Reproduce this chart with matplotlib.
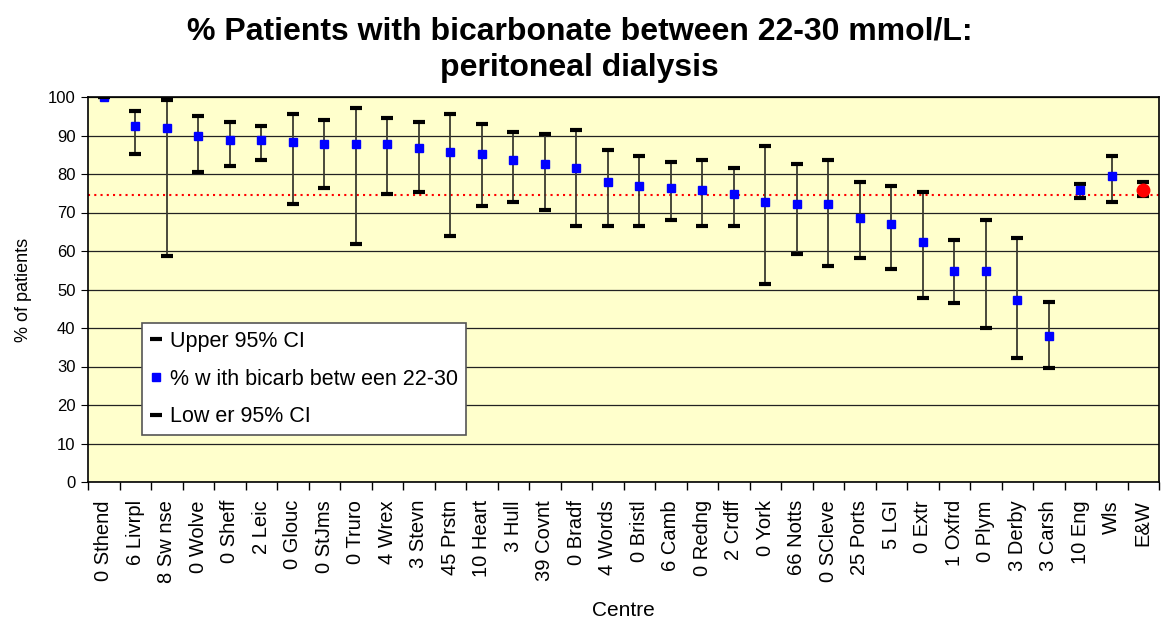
import matplotlib
matplotlib.use("Agg")
import matplotlib.pyplot as plt
import numpy as np

plt.rcParams['font.family'] = ['Liberation Sans', 'DejaVu Sans']

centres = ["0 Sthend", "6 Livrpl", "8 Sw nse", "0 Wolve", "0 Sheff", "2 Leic", "0 Glouc",
           "0 StJms", "0 Truro", "4 Wrex", "3 Stevn", "45 Prstn", "10 Heart", "3 Hull",
           "39 Covnt", "0 Bradf", "4 Words", "0 Bristl", "6 Camb", "0 Redng", "2 Crdff",
           "0 York", "66 Notts", "0 SCleve", "25 Ports", "5 LGI", "0 Extr", "1 Oxfrd",
           "0 Plym", "3 Derby", "3 Carsh", "10 Eng", "Wls", "E&W"]
pct = [100, 92.5, 91.9, 89.9, 88.8, 88.8, 88.3, 87.8, 87.8, 87.8, 86.8, 85.7, 85.2, 83.6,
       82.6, 81.6, 78.0, 77.0, 76.4, 75.9, 74.9, 72.8, 72.3, 72.3, 68.6, 67.1, 62.4, 54.7,
       54.7, 47.4, 38.0, 75.9, 79.6, 75.9]
upper = [100, 96.3, 99.3, 95.1, 93.6, 92.5, 95.7, 94.1, 97.2, 94.6, 93.6, 95.7, 93.1, 91.0,
         90.5, 91.5, 86.3, 84.8, 83.2, 83.7, 81.6, 87.4, 82.7, 83.7, 78.0, 77.0, 75.4, 62.9,
         68.1, 63.5, 46.8, 77.5, 84.8, 78.0]
lower = [100, 85.2, 58.8, 80.5, 82.2, 83.6, 72.3, 76.4, 61.9, 74.9, 75.4, 64.0, 71.8, 72.8,
         70.7, 66.6, 66.6, 66.6, 68.1, 66.6, 66.6, 51.5, 59.3, 56.2, 58.3, 55.2, 47.9, 46.4,
         40.1, 32.3, 29.7, 73.8, 72.8, 74.4]
national_avg = 74.6

W, H = 1162, 619
fig = plt.figure(figsize=(W / 100, H / 100), dpi=100)
ax = fig.add_axes([88 / W, 1 - 482 / H, (1159 - 88) / W, (482 - 97) / H])
ax.set_facecolor('#FFFFCC')

x = np.arange(len(centres))
ax.vlines(x, lower, upper, color='#3a3a30', linewidth=1.3, zorder=3)
ax.plot(x, upper, linestyle='none', marker='_', markersize=8, mew=3, color='black',
        zorder=4, label='Upper 95% CI')
ax.plot(x[:-1], pct[:-1], linestyle='none', marker='s', markersize=6.2, color='#0000FF',
        zorder=5, label='% w ith bicarb betw een 22-30')
ax.plot(x, lower, linestyle='none', marker='_', markersize=8, mew=3, color='black',
        zorder=6, label='Low er 95% CI')
ax.plot(x[-1:], pct[-1:], linestyle='none', marker='o', markersize=9, color='#FF0000',
        zorder=7)
ax.axhline(national_avg, color='#FF0000', linestyle=(0, (1, 2)), linewidth=1.5, zorder=2)

ax.set_xlim(-0.5, len(centres) - 0.5)
ax.set_ylim(0, 100)
ax.set_yticks(np.arange(0, 101, 10))
ax.yaxis.grid(True, color='#222222', linewidth=0.9)
ax.set_axisbelow(True)
ax.set_xticks(x)
ax.set_xticklabels(centres, rotation=90, fontsize=14.5)
ax.set_xticks(np.arange(-0.5, len(centres), 1), minor=True)
ax.tick_params(axis='x', which='major', length=0, pad=13)
ax.tick_params(axis='x', which='minor', length=6, width=1, direction='out')
ax.tick_params(axis='y', labelsize=12, length=5, direction='out', pad=4)
for s in ax.spines.values():
    s.set_linewidth(1.2)
    s.set_color('black')

ax.set_xlabel('Centre', fontsize=15, va='center')
ax.xaxis.set_label_coords(0.5, (482 - 610) / 385)
ax.set_ylabel('% of patients', fontsize=13, va='center')
ax.yaxis.set_label_coords((24 - 88) / 1071, 0.5)

fig.text(0.499, 1 - 31 / H, '% Patients with bicarbonate between 22-30 mmol/L:',
         ha='center', va='center', fontsize=23, fontweight='bold')
fig.text(0.499, 1 - 68 / H, 'peritoneal dialysis',
         ha='center', va='center', fontsize=23, fontweight='bold')

leg = ax.legend(loc='upper left', bbox_to_anchor=(142 / W, 1 - 323 / H),
                bbox_transform=fig.transFigure, borderaxespad=0, fontsize=15.5,
                fancybox=False, framealpha=1, edgecolor='#555555', labelspacing=0.77,
                handlelength=0.53, handletextpad=0.4, borderpad=0.37, markerscale=1.0)
leg.get_frame().set_linewidth(1.2)

fig.savefig('out.png', dpi=100)
